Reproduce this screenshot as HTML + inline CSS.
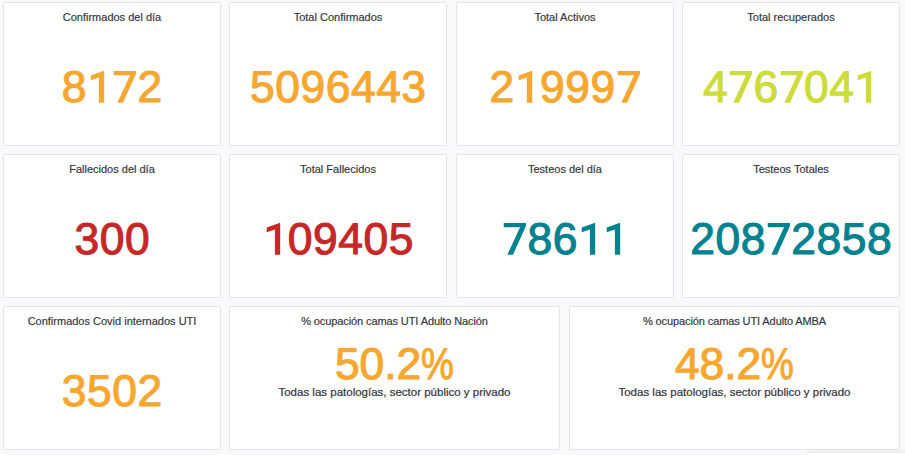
<!DOCTYPE html>
<html lang="es">
<head>
<meta charset="utf-8">
<title>Dashboard COVID</title>
<style>
html,body{margin:0;padding:0;overflow:hidden;}
html{width:905px;height:455px;}
body{width:905px;height:455px;overflow:hidden;background:#f7f9fb;position:relative;font-family:"Liberation Sans",sans-serif;}
.p{position:absolute;box-sizing:border-box;background:#fff;border:1px solid #e2e5e9;border-radius:2px;height:144px;}
.t{position:absolute;left:0;right:0;top:7px;text-align:center;font-size:11px;line-height:14px;color:#33363c;white-space:nowrap;-webkit-text-stroke:.18px #33363c;}
.n{letter-spacing:-.1px}
.v{position:absolute;left:0;right:0;top:60px;text-align:center;font-size:44.4px;line-height:50px;letter-spacing:.55px;padding-left:.55px;white-space:nowrap;-webkit-text-stroke:1.1px currentColor;text-rendering:geometricPrecision;}
.pc{top:33px;letter-spacing:0;padding-left:0}
.one{width:25.25px;height:31.7px;vertical-align:-.55px;overflow:visible;}
.pct{display:inline-block;transform:scaleX(.83);transform-origin:0 50%;margin-right:-6.7px;}
.s{position:absolute;left:0;right:0;top:78px;text-align:center;font-size:11.5px;line-height:14px;color:#33363c;white-space:nowrap;-webkit-text-stroke:.22px #33363c;}
.o{color:#f6a730}.l{color:#cddc39}.r{color:#c62828}.c{color:#00838f}
.pop{position:absolute;left:808px;top:453px;width:97px;height:2px;background:#fff;box-shadow:0 0 5px rgba(0,0,0,.2);}
</style>
</head>
<body>
<div class="p" style="left:3px;top:2px;width:218px"><div class="t">Confirmados del día</div><div class="v o">8<svg class="one" viewBox="0 0 25.25 31.8"><path fill="currentColor" d="M17.2 0V31.8H11.9V6.4L3.7 9.2V4.6L16.4 0Z"/></svg><svg class="one" viewBox="0 0 25.25 31.8"><path fill="currentColor" d="M1.7 0H24V3.1L11 31.8H5.3L18.1 4.25H1.7Z"/></svg>2</div></div>
<div class="p" style="left:229px;top:2px;width:218px"><div class="t">Total Confirmados</div><div class="v o">5096443</div></div>
<div class="p" style="left:456px;top:2px;width:218px"><div class="t">Total Activos</div><div class="v o">2<svg class="one" viewBox="0 0 25.25 31.8"><path fill="currentColor" d="M17.2 0V31.8H11.9V6.4L3.7 9.2V4.6L16.4 0Z"/></svg>999<svg class="one" viewBox="0 0 25.25 31.8"><path fill="currentColor" d="M1.7 0H24V3.1L11 31.8H5.3L18.1 4.25H1.7Z"/></svg></div></div>
<div class="p" style="left:682px;top:2px;width:218px"><div class="t">Total recuperados</div><div class="v l">4<svg class="one" viewBox="0 0 25.25 31.8"><path fill="currentColor" d="M1.7 0H24V3.1L11 31.8H5.3L18.1 4.25H1.7Z"/></svg>6<svg class="one" viewBox="0 0 25.25 31.8"><path fill="currentColor" d="M1.7 0H24V3.1L11 31.8H5.3L18.1 4.25H1.7Z"/></svg>04<svg class="one" viewBox="0 0 25.25 31.8"><path fill="currentColor" d="M17.2 0V31.8H11.9V6.4L3.7 9.2V4.6L16.4 0Z"/></svg></div></div>

<div class="p" style="left:3px;top:154px;width:218px"><div class="t">Fallecidos del día</div><div class="v r">300</div></div>
<div class="p" style="left:229px;top:154px;width:218px"><div class="t">Total Fallecidos</div><div class="v r"><svg class="one" viewBox="0 0 25.25 31.8"><path fill="currentColor" d="M17.2 0V31.8H11.9V6.4L3.7 9.2V4.6L16.4 0Z"/></svg>09405</div></div>
<div class="p" style="left:456px;top:154px;width:218px"><div class="t">Testeos del día</div><div class="v c"><svg class="one" viewBox="0 0 25.25 31.8"><path fill="currentColor" d="M1.7 0H24V3.1L11 31.8H5.3L18.1 4.25H1.7Z"/></svg>86<svg class="one" viewBox="0 0 25.25 31.8"><path fill="currentColor" d="M17.2 0V31.8H11.9V6.4L3.7 9.2V4.6L16.4 0Z"/></svg><svg class="one" viewBox="0 0 25.25 31.8"><path fill="currentColor" d="M17.2 0V31.8H11.9V6.4L3.7 9.2V4.6L16.4 0Z"/></svg></div></div>
<div class="p" style="left:682px;top:154px;width:218px"><div class="t">Testeos Totales</div><div class="v c">208<svg class="one" viewBox="0 0 25.25 31.8"><path fill="currentColor" d="M1.7 0H24V3.1L11 31.8H5.3L18.1 4.25H1.7Z"/></svg>2858</div></div>

<div class="p" style="left:3px;top:306px;width:218px"><div class="t">Confirmados Covid internados UTI</div><div class="v o">3502</div></div>
<div class="p" style="left:229px;top:306px;width:331px"><div class="t n">% ocupación camas UTI Adulto Nación</div><div class="v o pc">50.2<span class="pct">%</span></div><div class="s">Todas las patologías, sector público y privado</div></div>
<div class="p" style="left:569px;top:306px;width:331px"><div class="t n">% ocupación camas UTI Adulto AMBA</div><div class="v o pc">48.2<span class="pct">%</span></div><div class="s">Todas las patologías, sector público y privado</div></div>
<div class="pop"></div>
</body>
</html>
